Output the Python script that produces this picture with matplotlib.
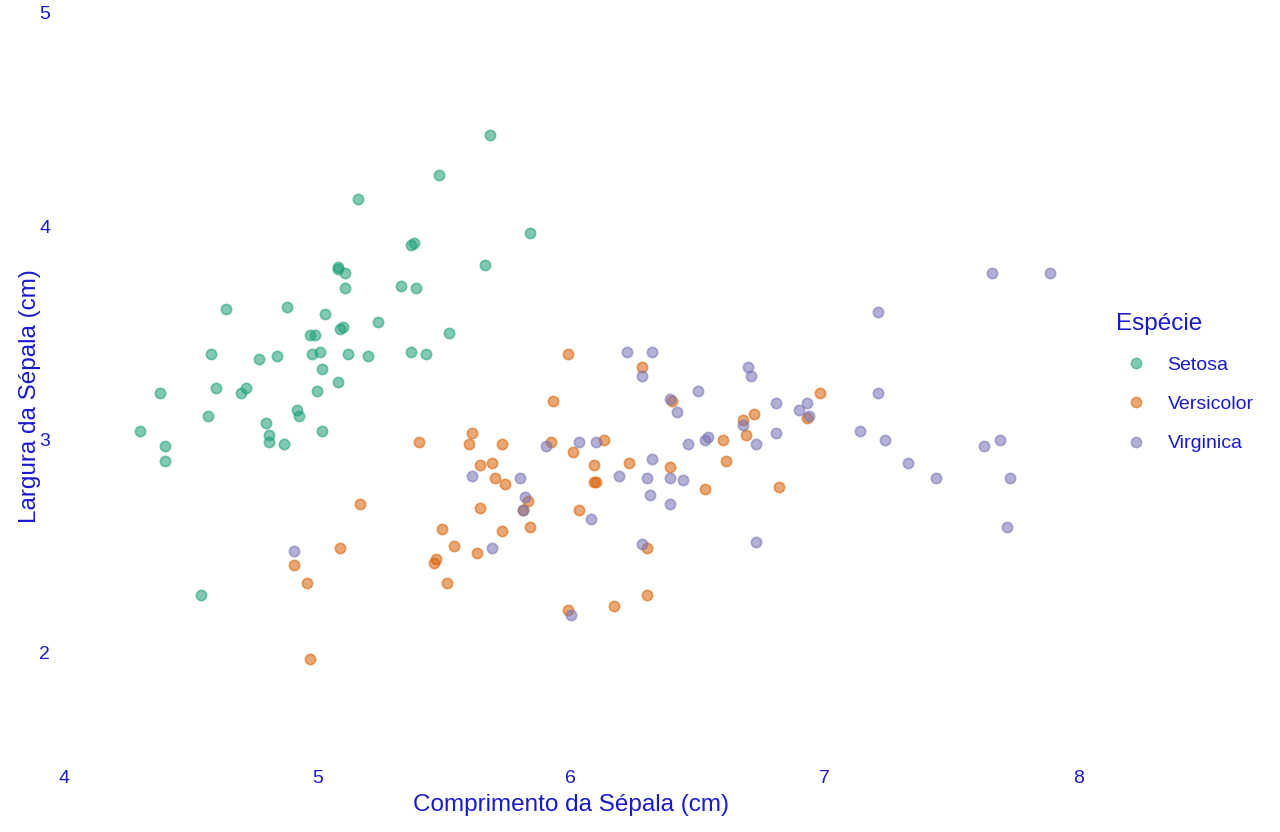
import matplotlib.pyplot as plt
from matplotlib.lines import Line2D

plt.rcParams['font.family'] = ['Liberation Sans', 'DejaVu Sans']

# Sepal length / width (jittered iris data)
setosa_x = [5.68, 5.48, 5.16, 5.84, 5.38, 5.37, 5.66, 5.08, 5.08, 5.11,
            5.11, 5.33, 5.39, 4.64, 4.88, 5.03, 5.24, 5.10, 5.09, 5.52,
            4.97, 4.99, 4.58, 4.77, 4.84, 4.98, 5.01, 5.12, 5.20, 5.37,
            5.43, 5.02, 5.08, 4.60, 4.72, 4.70, 4.38, 5.00, 4.57, 4.92,
            4.93, 4.80, 4.81, 4.81, 4.87, 4.30, 5.02, 4.40, 4.40, 4.54]
setosa_y = [4.43, 4.24, 4.13, 3.97, 3.92, 3.91, 3.82, 3.81, 3.80, 3.78,
            3.71, 3.72, 3.71, 3.61, 3.62, 3.59, 3.55, 3.53, 3.52, 3.50,
            3.49, 3.49, 3.40, 3.38, 3.39, 3.40, 3.41, 3.40, 3.39, 3.41,
            3.40, 3.33, 3.27, 3.24, 3.24, 3.22, 3.22, 3.23, 3.11, 3.14,
            3.11, 3.08, 3.02, 2.99, 2.98, 3.04, 3.04, 2.97, 2.90, 2.27]

versicolor_x = [5.40, 5.61, 5.60, 5.73, 5.92, 5.64, 5.69, 5.70, 5.74, 5.83,
                5.81, 5.17, 5.64, 5.49, 5.73, 5.84, 5.09, 5.54, 5.63, 5.47,
                5.46, 4.91, 4.96, 5.51, 4.97, 5.99, 6.28, 5.93, 6.40, 6.13,
                6.01, 6.09, 6.23, 6.39, 6.09, 6.10, 6.03, 6.30, 6.30, 6.17,
                5.99, 6.98, 6.72, 6.68, 6.69, 6.93, 6.60, 6.61, 6.53, 6.82]
versicolor_y = [2.99, 3.03, 2.98, 2.98, 2.99, 2.88, 2.89, 2.82, 2.79, 2.71,
                2.67, 2.70, 2.68, 2.58, 2.57, 2.59, 2.49, 2.50, 2.47, 2.44,
                2.42, 2.41, 2.33, 2.33, 1.97, 3.40, 3.34, 3.18, 3.18, 3.00,
                2.94, 2.88, 2.89, 2.87, 2.80, 2.80, 2.67, 2.49, 2.27, 2.22,
                2.20, 3.22, 3.12, 3.09, 3.02, 3.10, 3.00, 2.90, 2.77, 2.78]

virginica_x = [5.90, 5.61, 5.80, 5.82, 5.81, 4.91, 5.69, 6.22, 6.32, 6.28,
               6.39, 6.42, 6.50, 6.03, 6.10, 6.46, 6.32, 6.19, 6.30, 6.39,
               6.44, 6.31, 6.39, 6.08, 6.28, 6.00, 6.70, 6.71, 6.81, 6.93,
               6.90, 6.94, 6.68, 6.53, 6.54, 6.73, 6.81, 7.14, 6.73, 7.66,
               7.89, 7.21, 7.21, 7.24, 7.33, 7.44, 7.63, 7.69, 7.73, 7.72]
virginica_y = [2.97, 2.83, 2.82, 2.73, 2.67, 2.48, 2.49, 3.41, 3.41, 3.30,
               3.19, 3.13, 3.23, 2.99, 2.99, 2.98, 2.91, 2.83, 2.82, 2.82,
               2.81, 2.74, 2.70, 2.63, 2.51, 2.18, 3.34, 3.30, 3.17, 3.17,
               3.14, 3.11, 3.07, 3.00, 3.01, 2.98, 3.03, 3.04, 2.52, 3.78,
               3.78, 3.60, 3.22, 3.00, 2.89, 2.82, 2.97, 3.00, 2.82, 2.59]

species = ["Setosa", "Versicolor", "Virginica"]
colors = ["#1B9E77", "#D95F02", "#7570B3"]
txt = "#1a1acd"

fig = plt.figure(figsize=(12.8, 8.32), dpi=100)
ax = fig.add_axes([60 / 1280, 72 / 832, 1035 / 1280, 750 / 832])

for xs, ys, c in zip([setosa_x, versicolor_x, virginica_x],
                     [setosa_y, versicolor_y, virginica_y], colors):
    ax.scatter(xs, ys, s=55, color=c, alpha=0.55, edgecolors=c, linewidths=1.2)

ax.set_xlim(3.986, 8.066)
ax.set_ylim(1.498, 5.014)
ax.set_xticks([4, 5, 6, 7, 8])
ax.set_yticks([2, 3, 4, 5])
ax.tick_params(length=0, labelsize=14, colors=txt, pad=7)
for s in ax.spines.values():
    s.set_visible(False)

fig.text(571 / 1280, 1 - 805 / 832, "Comprimento da Sépala (cm)",
         ha="center", va="center", fontsize=17.5, color=txt)
fig.text(30 / 1280, 1 - 396 / 832, "Largura da Sépala (cm)", rotation=90,
         ha="center", va="center", fontsize=17.5, color=txt)

handles = [Line2D([], [], marker="o", linestyle="", markersize=7.5,
                  markerfacecolor=c, markeredgecolor=c, alpha=0.55)
           for c in colors]
leg = fig.legend(handles, species, title="Espécie", loc="upper left",
                 bbox_to_anchor=(1108 / 1280, 1 - 305 / 832), frameon=False,
                 fontsize=14, title_fontsize=17.5, alignment="left",
                 handlelength=2.03, handletextpad=0.63, labelspacing=1.11,
                 borderaxespad=0)
for t in leg.get_texts():
    t.set_color(txt)
leg.get_title().set_color(txt)

fig.savefig("out.png", dpi=100, facecolor="white")
